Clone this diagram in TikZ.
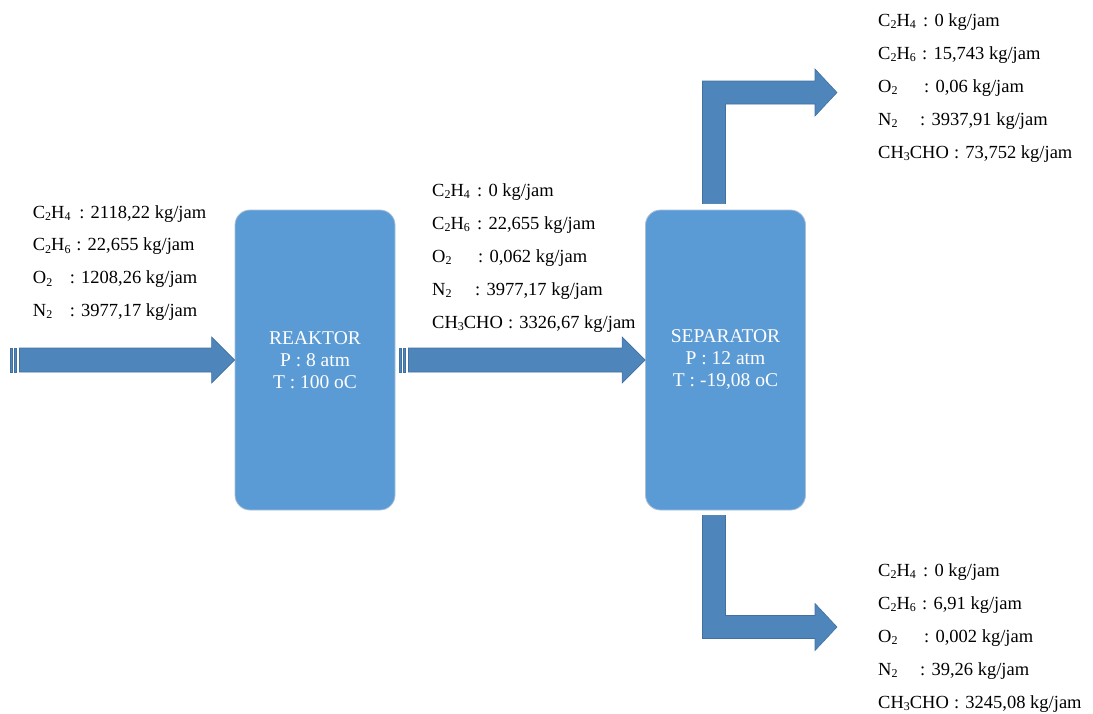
\documentclass[tikz,border=0pt]{standalone}
\usepackage{fontspec}
\setmainfont{Liberation Serif}
\usetikzlibrary{calc}

\definecolor{unitblue}{RGB}{91,155,213}
\definecolor{unitline}{RGB}{170,190,215}
\definecolor{pipeblue}{RGB}{78,134,188}
\definecolor{pipeline}{RGB}{65,113,160}

\newcommand{\lsub}[1]{\raisebox{-0.15em}{\fontsize{12}{12}\selectfont #1}}
\newcommand{\fl}[2]{\makebox[#1pt][l]{#2}}

\tikzset{
  unit/.style={draw=unitline, line width=0.8pt, fill=unitblue, rounded corners=15pt,
    minimum width=160pt, minimum height=300pt, text=white, align=center,
    font=\fontsize{19.5}{22}\selectfont},
  pipe/.style={fill=pipeblue, draw=pipeline, line width=0.6pt},
  flow/.style={anchor=base west, inner sep=0pt, font=\fontsize{18.5}{22}\selectfont}
}

\begin{document}
\begin{tikzpicture}[x=1pt, y=-1pt]

\useasboundingbox (0,0) rectangle (1093,713);

	%units
 \node[unit] (reaktor) at (315,360) {REAKTOR\\P : 8 atm\\T : 100 oC};
 \node[unit] (separator) at (725.5,360) {SEPARATOR\\P : 12 atm\\T : -19,08 oC};

 \coordinate (feed) at (19.5,360);
 \coordinate (rxout) at (408.5,360);
 \coordinate (sepTop) at ($(separator.north)+(-11.5,-6)$);
 \coordinate (sepBot) at ($(separator.south)+(-11.5,5)$);
 \coordinate (gasOut) at (837,92.5);
 \coordinate (liqOut) at (837,627);

	%straight arrows
 \foreach \from/\to in {feed/reaktor.west, rxout/separator.west}{
    \filldraw[pipe] ($(\from)+(0,-12)$) -- ($(\to)+(-23,-12)$) -- ++(0,-11) -- (\to)
        -- ++(-23,23) -- ++(0,-11) -- ($(\from)+(0,12)$) -- cycle;
    \filldraw[pipe] ($(\from)+(-9.5,-12)$) rectangle ++(2.7,24);
    \filldraw[pipe] ($(\from)+(-5.5,-12)$) rectangle ++(2.7,24);
 }

	%bent arrows
 \filldraw[pipe] ($(sepTop)+(-11.5,0)$) |- ($(gasOut)+(-22,-11.5)$) -- ++(0,-12) -- (gasOut)
        -- ++(-22,23.5) -- ++(0,-12) -| ($(sepTop)+(11.5,0)$) -- cycle;
 \filldraw[pipe] ($(sepBot)+(-11.5,0)$) |- ($(liqOut)+(-22,11.5)$) -- ++(0,12) -- (liqOut)
        -- ++(-22,-23.5) -- ++(0,12) -| ($(sepBot)+(11.5,0)$) -- cycle;

	%stream data
 \def\dy{32.7};
    \foreach \i/\w/\f/\v/\name in {0/46.5/C\lsub{2}H\lsub{4}/{2118,22}/f1, 1/43.5/C\lsub{2}H\lsub{6}/{22,655}/f2,
        2/37/O\lsub{2}/{1208,26}/f3, 3/37/N\lsub{2}/{3977,17}/f4}{
         \node[flow] (\name) at (32.7, 218 + \i*\dy) {\fl{\w}{\f}: \v\ kg/jam};
    }

 \def\dy{33};
    \foreach \i/\w/\f/\v/\name in {0/45/C\lsub{2}H\lsub{4}/0/r1, 1/45/C\lsub{2}H\lsub{6}/{22,655}/r2,
        2/46/O\lsub{2}/{0,062}/r3, 3/43/N\lsub{2}/{3977,17}/r4, 4/76/CH\lsub{3}CHO/{3326,67}/r5}{
         \node[flow] (\name) at (432, 196 + \i*\dy) {\fl{\w}{\f}: \v\ kg/jam};
    }

    \foreach \i/\w/\f/\v/\name in {0/45/C\lsub{2}H\lsub{4}/0/g1, 1/44/C\lsub{2}H\lsub{6}/{15,743}/g2,
        2/46/O\lsub{2}/{0,06}/g3, 3/42/N\lsub{2}/{3937,91}/g4, 4/76/CH\lsub{3}CHO/{73,752}/g5}{
         \node[flow] (\name) at (878, 26 + \i*\dy) {\fl{\w}{\f}: \v\ kg/jam};
    }

    \foreach \i/\w/\f/\v/\name in {0/45/C\lsub{2}H\lsub{4}/0/l1, 1/44/C\lsub{2}H\lsub{6}/{6,91}/l2,
        2/46/O\lsub{2}/{0,002}/l3, 3/42/N\lsub{2}/{39,26}/l4, 4/76/CH\lsub{3}CHO/{3245,08}/l5}{
         \node[flow] (\name) at (878, 576 + \i*\dy) {\fl{\w}{\f}: \v\ kg/jam};
    }

\end{tikzpicture}
\end{document}
